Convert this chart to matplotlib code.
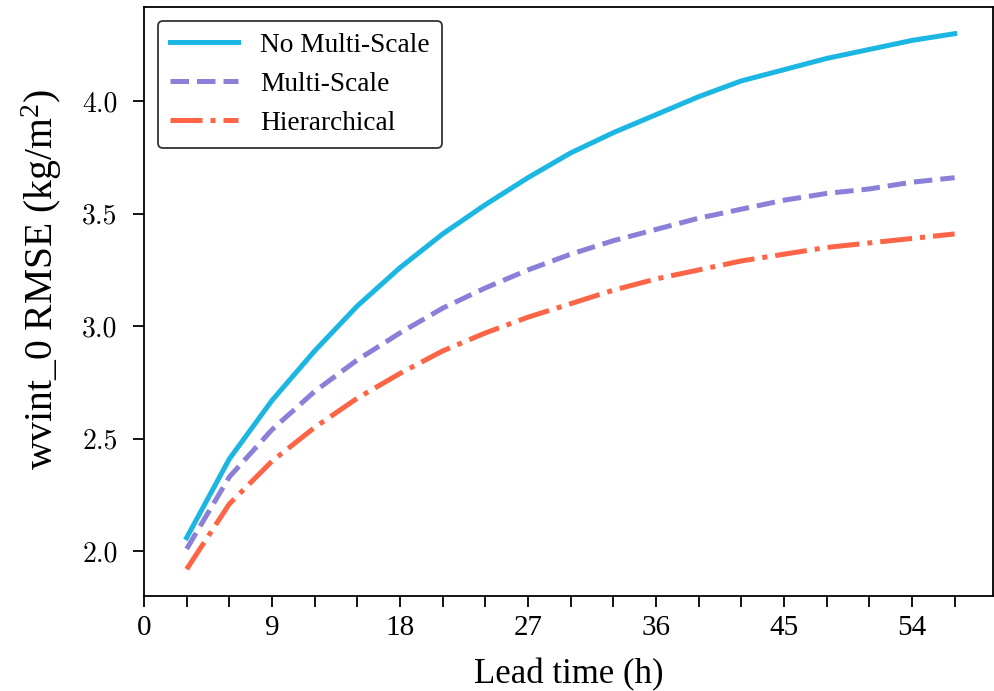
import matplotlib
matplotlib.use("Agg")
import matplotlib.pyplot as plt
import numpy as np

plt.rcParams['font.family'] = ['Liberation Serif', 'DejaVu Serif']
plt.rcParams['mathtext.fontset'] = 'custom'
plt.rcParams['mathtext.rm'] = 'Liberation Serif'
plt.rcParams['mathtext.it'] = 'Liberation Serif:italic'

# lead times in hours
lead_time = [3, 6, 9, 12, 15, 18, 21, 24, 27, 30, 33, 36, 39, 42, 45, 48, 51, 54, 57]

no_multi_scale = [2.06, 2.41, 2.67, 2.89, 3.09, 3.26, 3.41, 3.54, 3.66, 3.77, 3.86,
                  3.94, 4.02, 4.09, 4.14, 4.19, 4.23, 4.27, 4.30]
multi_scale = [2.01, 2.33, 2.54, 2.71, 2.85, 2.97, 3.08, 3.17, 3.25, 3.32, 3.38,
               3.43, 3.48, 3.52, 3.56, 3.59, 3.61, 3.64, 3.66]
hierarchical = [1.92, 2.21, 2.40, 2.55, 2.68, 2.79, 2.89, 2.97, 3.04, 3.10, 3.16,
                3.21, 3.25, 3.29, 3.32, 3.35, 3.37, 3.39, 3.41]

fig = plt.figure(figsize=(9.95, 6.91), dpi=100)
ax = fig.add_axes([0.1447, 0.1375, 0.8533, 0.8525])

lw = 3.6
ax.plot(lead_time, no_multi_scale, color='#1bb6e2', lw=lw, ls='-', label='No Multi-Scale')
ax.plot(lead_time, multi_scale, color='#8b80d9', lw=lw, ls='--', label='Multi-Scale')
ax.plot(lead_time, hierarchical, color='#fe6446', lw=lw, ls='-.', label='Hierarchical')

ax.set_xlim(0, 59.7)
xt = np.arange(0, 58, 3)
ax.set_xticks(xt)
ax.set_xticklabels([str(v) if v % 9 == 0 else '' for v in xt], fontsize=21)
ax.set_yticks([2.0, 2.5, 3.0, 3.5, 4.0])
ax.set_yticklabels(['2.0', '2.5', '3.0', '3.5', '4.0'], fontsize=20, fontfamily='cmr10')

ax.tick_params(axis='x', length=8, width=1.3, pad=6)
ax.tick_params(axis='y', length=8, width=1.3, pad=11)
for s in ax.spines.values():
    s.set_linewidth(1.3)

ax.set_xlabel('Lead time (h)', fontsize=25, labelpad=12)
ax.set_ylabel('wvint_0 RMSE (kg/m$^2$)', fontsize=28.5)
ax.yaxis.set_label_coords(-0.094, 0.538)

leg = ax.legend(loc='upper left', fontsize=19.7, handlelength=2.5, handletextpad=0.8,
                labelspacing=0.5, borderpad=0.45, frameon=True, fancybox=True,
                edgecolor='#333333', framealpha=1)
leg.get_frame().set_linewidth(1.3)

fig.savefig('out.png', dpi=100)
